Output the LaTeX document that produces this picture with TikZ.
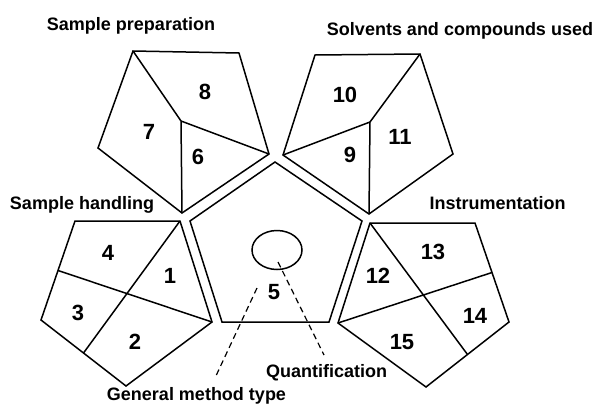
\documentclass[tikz,border=0pt]{standalone}
\usepackage{fontspec}
\setmainfont{Liberation Sans}
\usetikzlibrary{calc}
\begin{document}
\begin{tikzpicture}[x=1pt,y=-1pt,
  pent/.style={draw, line width=1.5pt, line join=miter},
  divline/.style={draw, line width=1.5pt},
  num/.style={font=\fontsize{22}{22}\selectfont\bfseries, inner sep=0pt},
  ttl/.style={font=\fontsize{18}{18}\selectfont\bfseries, anchor=base, inner sep=0pt},
  leader/.style={line width=1.2pt, dash pattern=on 6pt off 4pt}]
\useasboundingbox (0,0) rectangle (598,405);
% central pentagon
\coordinate (c1) at (275,162);
\coordinate (c2) at (362,221);
\coordinate (c3) at (329,322);
\coordinate (c4) at (222,322);
\coordinate (c5) at (190,221);
\draw[pent] (c1)--(c2)--(c3)--(c4)--(c5)--cycle;
\draw[line width=1.5pt] (277,250) ellipse [x radius=25, y radius=19.5];
% top-left pentagon
\coordinate (a1) at (133,51);
\coordinate (a2) at (239,53);
\coordinate (a3) at (269,154);
\coordinate (a4) at (182,213);
\coordinate (a5) at (98,148);
\coordinate (ai) at (181,121);
\draw[pent] (a1)--(a2)--(a3)--(a4)--(a5)--cycle;
\draw[divline] (a1)--(ai)--(a3) (ai)--(a4);
% top-right pentagon
\coordinate (b1) at (315,55);
\coordinate (b2) at (420,54);
\coordinate (b3) at (453,154);
\coordinate (b4) at (369,214);
\coordinate (b5) at (283,155);
\coordinate (bi) at (370,122);
\draw[pent] (b1)--(b2)--(b3)--(b4)--(b5)--cycle;
\draw[divline] (b2)--(bi)--(b5) (bi)--(b4);
% left pentagon
\coordinate (l1) at (75,221);
\coordinate (l2) at (180,221);
\coordinate (l3) at (212,322);
\coordinate (l4) at (126,386);
\coordinate (l5) at (41,320);
\draw[pent] (l1)--(l2)--(l3)--(l4)--(l5)--cycle;
\draw[divline] (l2)--($(l4)!0.5!(l5)$) (l3)--($(l1)!0.5!(l5)$);
% right pentagon
\coordinate (r1) at (370,223);
\coordinate (r2) at (475,223);
\coordinate (r3) at (509,322);
\coordinate (r4) at (426,387);
\coordinate (r5) at (338,323);
\draw[pent] (r1)--(r2)--(r3)--(r4)--(r5)--cycle;
\draw[divline] (r1)--($(r3)!0.5!(r4)$) (r5)--($(r2)!0.5!(r3)$);
% numbers
\node[num] (n1) at (170,276) {1};
\node[num] (n2) at (135,342) {2};
\node[num] (n3) at (78,313) {3};
\node[num] (n4) at (108,253) {4};
\node[num] (n5) at (274,292) {5};
\node[num] (n6) at (198,157) {6};
\node[num] (n7) at (149,132) {7};
\node[num] (n8) at (205,92) {8};
\node[num] (n9) at (350,155) {9};
\node[num] (n10) at (345,95) {10};
\node[num] (n11) at (400,137) {11};
\node[num] (n12) at (378,276) {12};
\node[num] (n13) at (433,252) {13};
\node[num] (n14) at (475,316) {14};
\node[num] (n15) at (402,342) {15};
% titles
\node[ttl] (tprep) at (131,30.5) {Sample preparation};
\node[ttl] (tsolv) at (460,35) {Solvents and compounds used};
\node[ttl] (thand) at (82,209) {Sample handling};
\node[ttl] (tinst) at (497.5,209) {Instrumentation};
\node[ttl] (tquant) at (326.5,377.5) {Quantification};
\node[ttl] (tgen) at (196.5,400) {General method type};
% leaders
\coordinate (q1) at (278,262);
\coordinate (q2) at (324,355);
\coordinate (g1) at (257,288);
\coordinate (g2) at (215,378);
\draw[leader] (q1)--(q2);
\draw[leader] (g1)--(g2);
\end{tikzpicture}
\end{document}
